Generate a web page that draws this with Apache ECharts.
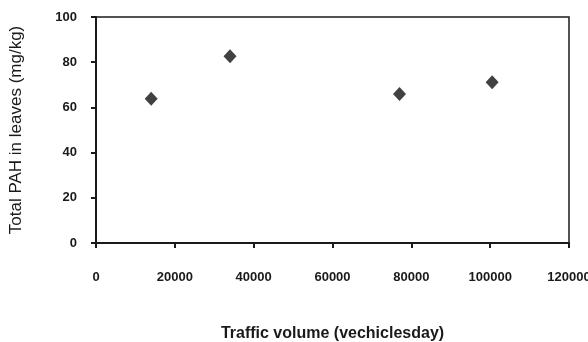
<!DOCTYPE html>
<html>
<head>
<meta charset="utf-8">
<script src="https://cdn.jsdelivr.net/npm/echarts@6/dist/echarts.min.js"></script>
<style>
  html, body { margin: 0; padding: 0; background: #fff; }
  #chart { width: 588px; height: 342px; }
</style>
</head>
<body>
<div id="chart"></div>
<script>
// traffic volume (vehicles/day) and total PAH (mg/kg)
const traffic = [14000, 34000, 77000, 100500]
const totalPah = [63.8, 82.6, 65.9, 71.1]
const xTicks = [0, 20000, 40000, 60000, 80000, 100000, 120000]
const yTicks = [0, 20, 40, 60, 80, 100]

const points = traffic.map((t, i) => [t, totalPah[i]])

const chart = echarts.init(document.getElementById('chart'))
const font = 'Liberation Sans, Arial, sans-serif'
const labelFont = {
  color: '#1a1a1a',
  fontFamily: font,
  fontWeight: 'bold',
  fontSize: 13
}

chart.setOption({
  animation: false,
  grid: {
    left: 96,
    right: 19,
    top: 17,
    bottom: 99,
    show: true,
    borderColor: '#1a1a1a',
    borderWidth: 1.5,
    outerBoundsMode: 'none',
    containLabel: false
  },
  xAxis: {
    type: 'value',
    min: xTicks[0],
    max: xTicks[xTicks.length - 1],
    interval: xTicks[1] - xTicks[0],
    name: 'Traffic volume (vechiclesday)',
    nameLocation: 'middle',
    nameGap: 83,
    nameTextStyle: { color: '#1a1a1a', fontFamily: font, fontSize: 16, fontWeight: 'bold' },
    axisLine: { show: true, lineStyle: { color: '#1a1a1a', width: 2 } },
    axisTick: { show: true, inside: false, length: 5, lineStyle: { color: '#1a1a1a', width: 2 } },
    axisLabel: Object.assign({ margin: 28, formatter: v => String(v) }, labelFont),
    splitLine: { show: false }
  },
  yAxis: {
    type: 'value',
    min: yTicks[0],
    max: yTicks[yTicks.length - 1],
    interval: yTicks[1] - yTicks[0],
    name: 'Total PAH in leaves (mg/kg)',
    nameLocation: 'middle',
    nameGap: 71,
    nameTextStyle: { color: '#1a1a1a', fontFamily: font, fontSize: 17 },
    axisLine: { show: true, lineStyle: { color: '#1a1a1a', width: 2 } },
    axisTick: { show: true, inside: false, length: 5, lineStyle: { color: '#1a1a1a', width: 2 } },
    axisLabel: Object.assign({ margin: 19, formatter: v => String(v) }, labelFont),
    splitLine: { show: false }
  },
  series: [{
    type: 'scatter',
    data: points,
    symbol: 'diamond',
    symbolSize: [13, 14],
    itemStyle: { color: '#111' }
  }]
})
</script>
</body>
</html>
